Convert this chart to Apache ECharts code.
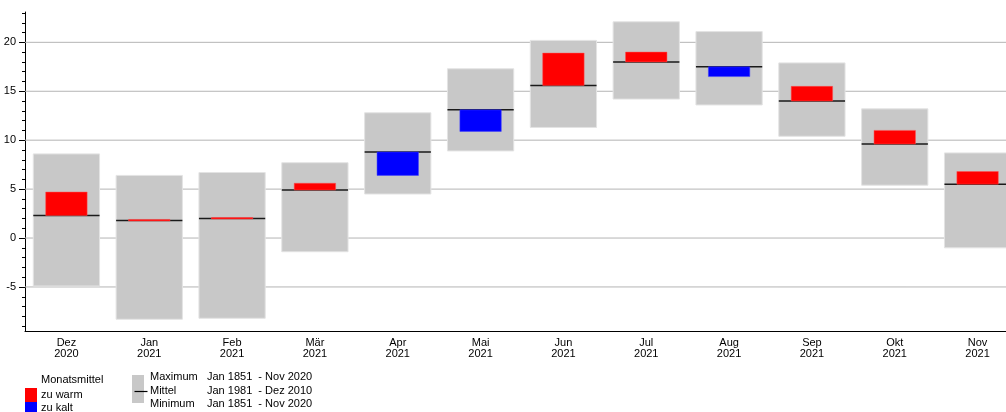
<!DOCTYPE html>
<html>
<head>
<meta charset="utf-8">
<script src="https://cdn.jsdelivr.net/npm/echarts@6/dist/echarts.min.js"></script>
<style>
  html, body { margin: 0; padding: 0; background: #fff; overflow: hidden; width: 1006px; height: 412px; }
  /* the plot runs a little past the right edge of the page */
  #chart { width: 1020px; height: 412px; }
</style>
</head>
<body>
<div id="chart"></div>
<script>
// Monthly mean temperatures (°C), Dec 2020 – Nov 2021
const months = ['Dez', 'Jan', 'Feb', 'Mär', 'Apr', 'Mai', 'Jun', 'Jul', 'Aug', 'Sep', 'Okt', 'Nov'];
const years = ['2020', '2021', '2021', '2021', '2021', '2021', '2021', '2021', '2021', '2021', '2021', '2021'];

// Highest / lowest monthly mean, Jan 1851 – Nov 2020
const maxValues = [8.6, 6.4, 6.7, 7.7, 12.8, 17.3, 20.2, 22.1, 21.1, 17.9, 13.2, 8.7];
const minValues = [-4.9, -8.3, -8.2, -1.4, 4.5, 8.9, 11.3, 14.2, 13.6, 10.4, 5.4, -1.0];
// Reference mean, Jan 1981 – Dez 2010
const meanValues = [2.3, 1.8, 2.0, 4.9, 8.8, 13.1, 15.6, 18.0, 17.5, 14.0, 9.6, 5.5];
// Observed monthly mean
const monthValues = [4.7, 1.9, 2.1, 5.6, 6.4, 10.9, 18.9, 19.0, 16.5, 15.5, 11.0, 6.8];

// Y axis ticks
const majorTicks = [-5, 0, 5, 10, 15, 20];
const minorTicks = [-9, -8, -7, -6, -5, -4, -3, -2, -1, 0, 1, 2, 3, 4, 5, 6, 7, 8, 9, 10,
  11, 12, 13, 14, 15, 16, 17, 18, 19, 20, 21, 22, 23];

const Y_MIN = -9.5;
const Y_MAX = 23.1;

const FONT = '"Liberation Sans", Arial, sans-serif';
const WARM = '#ff0000';
const COLD = '#0000ff';
const RANGE_FILL = '#c8c8c8';

const chart = echarts.init(document.getElementById('chart'), null, { renderer: 'canvas' });

function rangeBox(params, api) {
  const i = api.value(0);
  const top = api.coord([i, api.value(1)]);
  const bottom = api.coord([i, api.value(2)]);
  const w = api.size([1, 0])[0] * 0.8;
  return {
    type: 'rect',
    shape: { x: top[0] - w / 2, y: top[1], width: w, height: bottom[1] - top[1] },
    style: { fill: RANGE_FILL, stroke: '#e3e3e3', lineWidth: 1 }
  };
}

function meanLine(params, api) {
  const i = api.value(0);
  const p = api.coord([i, api.value(1)]);
  const w = api.size([1, 0])[0] * 0.8;
  return {
    type: 'line',
    shape: { x1: p[0] - w / 2, y1: p[1], x2: p[0] + w / 2, y2: p[1] },
    style: { stroke: '#1a1a1a', lineWidth: 1.5 }
  };
}

function deviationBar(params, api) {
  const i = api.value(0);
  const mean = api.value(1);
  const actual = api.value(2);
  const a = api.coord([i, Math.max(mean, actual)]);
  const b = api.coord([i, Math.min(mean, actual)]);
  const w = api.size([1, 0])[0] * 0.5;
  return {
    type: 'rect',
    shape: { x: a[0] - w / 2, y: a[1], width: w, height: Math.max(b[1] - a[1], 1.5) },
    style: { fill: actual >= mean ? WARM : COLD, stroke: actual >= mean ? '#ff5050' : '#4040ff', lineWidth: 0.5 }
  };
}

function gridLine(params, api) {
  const cs = params.coordSys;
  const y = api.coord([0, api.value(1)])[1];
  return {
    type: 'line',
    shape: { x1: cs.x, y1: y, x2: cs.x + cs.width, y2: y },
    style: { stroke: '#b4b4b4', lineWidth: 1 }
  };
}

const textStyle = { fill: '#000', font: '11px ' + FONT };

const option = {
  animation: false,
  backgroundColor: '#fff',
  textStyle: { fontFamily: FONT },
  grid: { left: 25, right: 1, top: 12, bottom: 81, containLabel: false },
  xAxis: {
    type: 'category',
    data: months,
    boundaryGap: true,
    axisLine: { show: true, onZero: false, lineStyle: { color: '#000', width: 1 } },
    axisTick: { show: false },
    axisLabel: {
      interval: 0,
      margin: 6,
      color: '#000',
      fontSize: 11,
      lineHeight: 11,
      fontFamily: FONT,
      formatter: (v, i) => v + '\n' + years[i]
    },
    splitLine: { show: false }
  },
  yAxis: [
    {
      type: 'value',
      min: Y_MIN,
      max: Y_MAX,
      axisLine: { show: true, lineStyle: { color: '#000', width: 1 } },
      axisTick: { show: true, length: 6, customValues: majorTicks, lineStyle: { color: '#000' } },
      axisLabel: { customValues: majorTicks, margin: 9, color: '#000', fontSize: 11, fontFamily: FONT },
      splitLine: { show: false }
    },
    {
      type: 'value',
      min: Y_MIN,
      max: Y_MAX,
      position: 'left',
      axisLine: { show: false },
      axisTick: { show: true, length: 3, customValues: minorTicks, lineStyle: { color: '#000' } },
      axisLabel: { show: false },
      splitLine: { show: false }
    }
  ],
  series: [
    {
      type: 'custom',
      name: 'grid',
      renderItem: gridLine,
      data: majorTicks.map(v => [0, v]),
      encode: { x: 0, y: 1 },
      z: 1,
      silent: true,
      clip: true
    },
    {
      type: 'custom',
      name: 'Maximum/Minimum',
      renderItem: rangeBox,
      data: months.map((m, i) => [i, maxValues[i], minValues[i]]),
      encode: { x: 0, y: [1, 2] },
      z: 2,
      silent: true
    },
    {
      type: 'custom',
      name: 'Mittel',
      renderItem: meanLine,
      data: months.map((m, i) => [i, meanValues[i]]),
      encode: { x: 0, y: 1 },
      z: 3,
      silent: true
    },
    {
      type: 'custom',
      name: 'Monatsmittel',
      renderItem: deviationBar,
      data: months.map((m, i) => [i, meanValues[i], monthValues[i]]),
      encode: { x: 0, y: [1, 2] },
      z: 4,
      silent: true
    }
  ],
  graphic: [
    // Monthly mean key
    { type: 'text', left: 41, top: 374, style: Object.assign({ text: 'Monatsmittel' }, textStyle) },
    { type: 'rect', left: 25, top: 388, shape: { width: 12, height: 14 }, style: { fill: WARM } },
    { type: 'text', left: 41, top: 389, style: Object.assign({ text: 'zu warm' }, textStyle) },
    { type: 'rect', left: 25, top: 402, shape: { width: 12, height: 14 }, style: { fill: COLD } },
    { type: 'text', left: 41, top: 402, style: Object.assign({ text: 'zu kalt' }, textStyle) },
    // Range / reference mean key
    { type: 'rect', left: 132, top: 375, shape: { width: 12, height: 28 }, style: { fill: RANGE_FILL } },
    { type: 'line', left: 132, top: 389, shape: { x1: 0, y1: 0, x2: 13, y2: 0 }, style: { stroke: '#000', lineWidth: 1.2 } },
    { type: 'text', left: 150, top: 371, style: Object.assign({ text: 'Maximum' }, textStyle) },
    { type: 'text', left: 150, top: 385, style: Object.assign({ text: 'Mittel' }, textStyle) },
    { type: 'text', left: 150, top: 398, style: Object.assign({ text: 'Minimum' }, textStyle) },
    { type: 'text', left: 207, top: 371, style: Object.assign({ text: 'Jan 1851  - Nov 2020' }, textStyle) },
    { type: 'text', left: 207, top: 385, style: Object.assign({ text: 'Jan 1981  - Dez 2010' }, textStyle) },
    { type: 'text', left: 207, top: 398, style: Object.assign({ text: 'Jan 1851  - Nov 2020' }, textStyle) }
  ]
};

chart.setOption(option);
</script>
</body>
</html>
